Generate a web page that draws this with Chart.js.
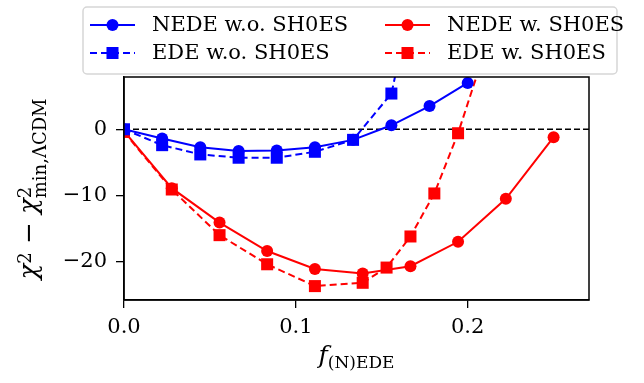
<!DOCTYPE html>
<html>
<head>
<meta charset="utf-8">
<script src="https://cdn.jsdelivr.net/npm/chart.js@4.4.0/dist/chart.umd.min.js"></script>
<style>
html, body { margin: 0; padding: 0; background: #fff; }
</style>
</head>
<body>
<canvas id="chart" width="644" height="383"></canvas>
<script>
// values
const nedeNoShoesX = [0, 0.0222, 0.0444, 0.0667, 0.0889, 0.1111, 0.1333, 0.1556, 0.1778, 0.2];
const nedeNoShoesY = [0, -1.4, -2.7, -3.3, -3.2, -2.7, -1.6, 0.6, 3.5, 7.0];
const edeNoShoesX = [0, 0.0222, 0.0444, 0.0667, 0.0889, 0.1111, 0.1333, 0.1556, 0.1778];
const edeNoShoesY = [0, -2.4, -3.8, -4.3, -4.3, -3.4, -1.6, 5.4, 32];
const nedeShoesX = [0, 0.0278, 0.0556, 0.0833, 0.1111, 0.1389, 0.1667, 0.1944, 0.2222, 0.25];
const nedeShoesY = [-0.3, -8.9, -14.1, -18.4, -21.1, -21.8, -20.7, -17.0, -10.5, -1.2];
const edeShoesX = [0, 0.0278, 0.0556, 0.0833, 0.1111, 0.1389, 0.1528, 0.1667, 0.1806, 0.1944, 0.2083];
const edeShoesY = [-0.4, -9.1, -16.0, -20.4, -23.7, -23.2, -20.9, -16.2, -9.7, -0.6, 10.5];
const seriesNames = ['NEDE w.o. SH0ES', 'EDE w.o. SH0ES', 'NEDE w. SH0ES', 'EDE w. SH0ES'];
const xTicks = [0, 0.1, 0.2];
const yTicks = [-20, -10, 0];

const FAMILY = '"DejaVu Serif", "Liberation Serif", serif';
const tickFont = { family: FAMILY, size: 21 };

function makeSet(label, xs, ys, color, style, dash) {
    return {
        label: label,
        data: xs.map((x, i) => ({ x: x, y: ys[i] })),
        borderColor: color,
        backgroundColor: color,
        borderWidth: 2,
        borderDash: dash,
        pointStyle: style,
        pointRadius: style === 'rect' ? 8.5 : 6,
        pointBorderWidth: 0,
        tension: 0
    };
}

const zeroLine = {
    id: 'zeroLine',
    beforeDatasetsDraw(chart) {
        const { ctx, chartArea } = chart;
        const y = chart.scales.y.getPixelForValue(0);
        ctx.save();
        ctx.strokeStyle = 'black';
        ctx.lineWidth = 1.5;
        ctx.setLineDash([6, 3]);
        ctx.beginPath();
        ctx.moveTo(chartArea.left, y);
        ctx.lineTo(chartArea.right, y);
        ctx.stroke();
        ctx.restore();
    }
};

const frame = {
    id: 'frame',
    afterDraw(chart) {
        const { ctx, chartArea } = chart;
        ctx.save();
        ctx.strokeStyle = 'black';
        ctx.lineWidth = 1.5;
        ctx.strokeRect(chartArea.left, chartArea.top, chartArea.right - chartArea.left, chartArea.bottom - chartArea.top);
        ctx.restore();
    }
};

// draws runs of text one after another; a run with keep:true does not advance the pen
function drawRuns(ctx, runs, cx, baseY) {
    let total = 0;
    runs.forEach(r => {
        ctx.font = r.font;
        r.w = ctx.measureText(r.text).width;
        if (!r.keep) total += r.w;
    });
    let x = cx - total / 2;
    runs.forEach(r => {
        ctx.font = r.font;
        ctx.fillText(r.text, x, baseY + (r.dy || 0));
        if (!r.keep) x += r.w;
    });
}

const axisTitles = {
    id: 'axisTitles',
    afterDraw(chart) {
        const { ctx, chartArea } = chart;
        ctx.save();
        ctx.fillStyle = 'black';
        ctx.textBaseline = 'alphabetic';
        drawRuns(ctx, [
            { text: 'f', font: 'italic 25px ' + FAMILY },
            { text: '(N)EDE', font: '17px ' + FAMILY, dy: 5 }
        ], (chartArea.left + chartArea.right) / 2, 363);

        ctx.translate(37, 189);
        ctx.rotate(-Math.PI / 2);
        const big = '26px ' + FAMILY;
        const bigIt = 'italic 26px ' + FAMILY;
        const small = '18px ' + FAMILY;
        drawRuns(ctx, [
            { text: 'χ', font: bigIt },
            { text: '2', font: small, dy: -6 },
            { text: ' − ', font: big },
            { text: 'χ', font: bigIt },
            { text: '2', font: small, dy: -6, keep: true },
            { text: 'min,ΛCDM', font: small, dy: 9 }
        ], 0, 0);
        ctx.restore();
    }
};

const legendBox = {
    id: 'legendBox',
    afterDraw(chart) {
        const { ctx } = chart;
        const left = 83, top = 7, right = 617, bottom = 74;
        ctx.save();
        ctx.fillStyle = 'rgba(255,255,255,0.8)';
        ctx.strokeStyle = '#d6d6d6';
        ctx.lineWidth = 1.5;
        ctx.beginPath();
        ctx.roundRect(left, top, right - left, bottom - top, 4);
        ctx.fill();
        ctx.stroke();

        const cols = [90, 385];
        const rows = [25, 53];
        chart.data.datasets.forEach((ds, i) => {
            const x0 = cols[Math.floor(i / 2)];
            const y = rows[i % 2];
            ctx.strokeStyle = ds.borderColor;
            ctx.lineWidth = ds.borderWidth;
            ctx.setLineDash(ds.borderDash);
            ctx.beginPath();
            ctx.moveTo(x0, y);
            ctx.lineTo(x0 + 45, y);
            ctx.stroke();
            ctx.setLineDash([]);
            ctx.fillStyle = ds.backgroundColor;
            Chart.helpers.drawPoint(ctx, {
                pointStyle: ds.pointStyle,
                radius: ds.pointRadius,
                rotation: 0,
                borderWidth: 0
            }, x0 + 22.5, y);
            ctx.fillStyle = 'black';
            ctx.font = '21px ' + FAMILY;
            ctx.textBaseline = 'middle';
            ctx.fillText(ds.label, x0 + 62, y + 1);
        });
        ctx.restore();
    }
};

new Chart(document.getElementById('chart'), {
    type: 'line',
    data: {
        datasets: [
            makeSet(seriesNames[0], nedeNoShoesX, nedeNoShoesY, 'blue', 'circle', []),
            makeSet(seriesNames[1], edeNoShoesX, edeNoShoesY, 'blue', 'rect', [7, 4]),
            makeSet(seriesNames[2], nedeShoesX, nedeShoesY, 'red', 'circle', []),
            makeSet(seriesNames[3], edeShoesX, edeShoesY, 'red', 'rect', [7, 4])
        ]
    },
    options: {
        responsive: false,
        animation: false,
        layout: { padding: { left: 0, right: 55, top: 77, bottom: 0 } },
        plugins: { legend: { display: false }, tooltip: { enabled: false } },
        scales: {
            x: {
                type: 'linear',
                min: 0,
                max: 0.2706,
                afterFit: s => { s.height = 83; },
                afterBuildTicks: s => { s.ticks = xTicks.map(v => ({ value: v })); },
                ticks: { callback: v => v.toFixed(1), font: tickFont, color: 'black', padding: 7, maxRotation: 0 },
                grid: { drawOnChartArea: false, tickLength: 8, color: 'black', lineWidth: 1.3 },
                border: { color: 'black', width: 1.5 }
            },
            y: {
                type: 'linear',
                min: -25.8,
                max: 7.9,
                afterFit: s => { s.width = 124; },
                afterBuildTicks: s => { s.ticks = yTicks.map(v => ({ value: v })); },
                ticks: { callback: v => String(v).replace('-', '−'), font: tickFont, color: 'black', padding: 9 },
                grid: { drawOnChartArea: false, tickLength: 8, color: 'black', lineWidth: 1.3 },
                border: { color: 'black', width: 1.5 }
            }
        }
    },
    plugins: [zeroLine, frame, axisTitles, legendBox]
});
</script>
</body>
</html>
